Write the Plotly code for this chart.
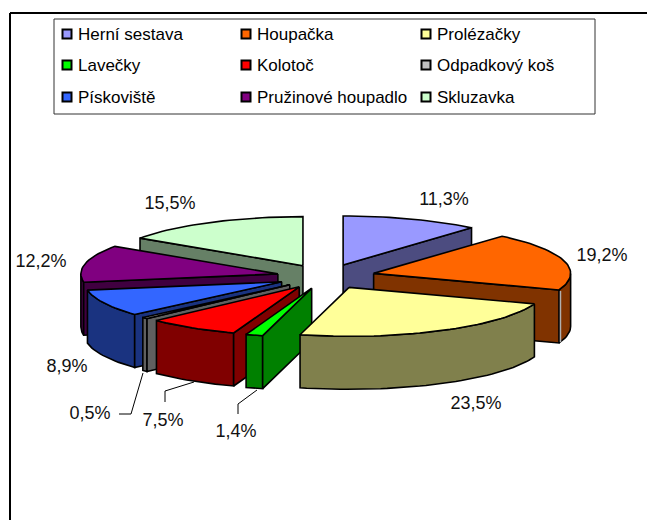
import math
import plotly.graph_objects as go

CATEGORIES = ["Herní sestava", "Houpačka", "Prolézačky", "Lavečky", "Kolotoč",
              "Odpadkový koš", "Pískoviště", "Pružinové houpadlo", "Skluzavka"]
VALUES = [11.3, 19.2, 23.5, 1.4, 7.5, 0.5, 8.9, 12.2, 15.5]
TOP_COLORS = ["#9999FF", "#FF6600", "#FFFF99", "#00FF00", "#FF0000",
              "#C0C0C0", "#3366FF", "#800080", "#CCFFCC"]
SIDE_COLORS = ["#4C4C80", "#803300", "#80804C", "#008000", "#800000",
               "#606060", "#1A3380", "#400040", "#668066"]

# pie projection (pixels on a 655x520 canvas)
CX, CY, RX, RY, DEPTH, EXPLODE = 326, 276.5, 197, 49, 53, 0.25
DRAW_ORDER = [0, 8, 1, 7, 6, 5, 4, 3, 2]
SEAM_SLICE = 1

LABEL_XY = [(444, 200), (602, 256), (476, 404), (236, 432), (163, 421),
            (90, 414), (67, 367), (41, 262), (170, 204)]
LEADERS = [[(238, 414), (238, 404), (257, 390)],
           [(165, 402), (165, 391), (194, 382)],
           [(119, 414), (131, 414), (143, 373)]]

LEGEND_BOX = (54, 19, 595, 114)
LEGEND_COLS = [67, 246, 426]
LEGEND_ROWS = [34, 65, 97]

FONT = "Liberation Sans, Arial, sans-serif"
OFFSET = 8  # the page body margin


def arc(a0, a1, ox, oy, dz=0):
    n = max(2, int(abs(a1 - a0) / 2) + 2)
    pts = []
    for i in range(n):
        t = math.radians(a0 + (a1 - a0) * i / (n - 1))
        pts.append((ox + RX * math.sin(t), oy - RY * math.cos(t) + dz))
    return pts


def poly(fig, pts, color):
    xs = [p[0] for p in pts] + [pts[0][0]]
    ys = [p[1] for p in pts] + [pts[0][1]]
    fig.add_trace(go.Scatter(x=xs, y=ys, mode="lines", fill="toself", fillcolor=color,
                             line=dict(color="black", width=1.6), hoverinfo="skip",
                             showlegend=False))


fig = go.Figure()
total = sum(VALUES)
starts = [sum(VALUES[:i]) / total * 360 for i in range(len(VALUES))]

for i in DRAW_ORDER:
    a0 = starts[i]
    a1 = a0 + VALUES[i] / total * 360
    mid = math.radians((a0 + a1) / 2)
    ox = CX + EXPLODE * RX * math.sin(mid)
    oy = CY - EXPLODE * RY * math.cos(mid)
    # outer wall: only the part that faces the viewer
    w0, w1 = max(a0, 90), min(a1, 270)
    if w1 > w0:
        poly(fig, arc(w0, w1, ox, oy) + arc(w1, w0, ox, oy, DEPTH), SIDE_COLORS[i])
    # radial walls
    for ang, visible in ((a0, math.sin(math.radians(a0)) < 0),
                         (a1, math.sin(math.radians(a1)) > 0)):
        if visible:
            e = arc(ang, ang, ox, oy)[0]
            poly(fig, [(ox, oy), e, (e[0], e[1] + DEPTH), (ox, oy + DEPTH)], SIDE_COLORS[i])
            if i == SEAM_SLICE:
                fig.add_trace(go.Scatter(x=[e[0] + 1.5, e[0] + 1.5], y=[e[1] + 1, e[1] + DEPTH - 1],
                                         mode="lines", line=dict(color="#B0B0B0", width=1.5),
                                         hoverinfo="skip", showlegend=False))
    # top face
    poly(fig, [(ox, oy)] + arc(a0, a1, ox, oy), TOP_COLORS[i])

for path in LEADERS:
    fig.add_trace(go.Scatter(x=[p[0] for p in path], y=[p[1] for p in path], mode="lines",
                             line=dict(color="black", width=1), hoverinfo="skip",
                             showlegend=False))

fig.add_trace(go.Scatter(x=[p[0] for p in LABEL_XY], y=[p[1] for p in LABEL_XY],
                         mode="text", text=[f"{v:.1f}%".replace(".", ",") for v in VALUES],
                         textposition="middle center",
                         textfont=dict(family=FONT, size=18, color="#111111"),
                         hoverinfo="skip", showlegend=False))

for i, name in enumerate(CATEGORIES):
    fig.add_trace(go.Scatter(x=[LEGEND_COLS[i % 3]], y=[LEGEND_ROWS[i // 3]],
                             mode="markers", name=name, showlegend=False,
                             marker=dict(symbol="square", size=9, color=TOP_COLORS[i],
                                         line=dict(color="black", width=2))))
    fig.add_annotation(x=LEGEND_COLS[i % 3] + 9, y=LEGEND_ROWS[i // 3], text=name,
                       showarrow=False, xanchor="left", yanchor="middle",
                       font=dict(family=FONT, size=17, color="black"))

x0, y0, x1, y1 = LEGEND_BOX
fig.add_shape(type="rect", x0=x0, y0=y0, x1=x1, y1=y1, line=dict(color="#333333", width=1),
              fillcolor="white", layer="below")
fig.add_shape(type="line", x0=10, y0=13, x1=655, y1=13, line=dict(color="black", width=2),
              layer="below")
fig.add_shape(type="line", x0=10, y0=13, x1=10, y1=520, line=dict(color="black", width=2),
              layer="below")

fig.update_xaxes(range=[OFFSET, 655], visible=False, fixedrange=True)
fig.update_yaxes(range=[520, OFFSET], visible=False, fixedrange=True)
fig.update_layout(width=655 - OFFSET, height=520 - OFFSET, margin=dict(l=0, r=0, t=0, b=0),
                  paper_bgcolor="white", plot_bgcolor="white", showlegend=False)
fig.write_html("out.html")
